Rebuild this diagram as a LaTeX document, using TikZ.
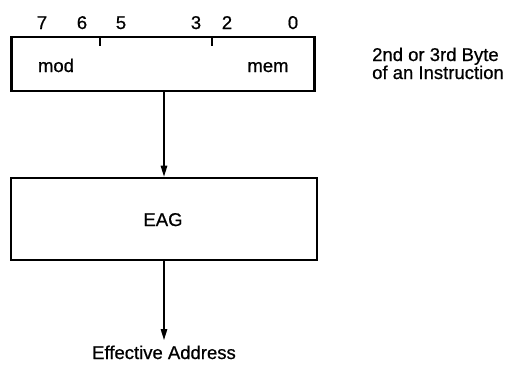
\documentclass[tikz,border=0pt]{standalone}
\usepackage{fontspec}
\setmainfont[FakeBold=0.7]{Liberation Sans}
\usetikzlibrary{arrows.meta}
\begin{document}
\begin{tikzpicture}[x=1pt,y=-1pt,
  lbl/.style={inner sep=0pt, anchor=base, font=\fontsize{18.5}{21}\selectfont},
  boxst/.style={draw, line width=2.6pt, inner sep=0pt},
  arr/.style={line width=1.4pt, -{Triangle[length=11pt,width=6.5pt]}}]
\useasboundingbox (0,0) rectangle (521,373);
\node[boxst, minimum width=303pt, minimum height=54pt] (byte) at (163,64) {};
\draw[line width=1.4pt] (100,37) -- (100,46);
\draw[line width=1.4pt] (212,37) -- (212,46);
\node[lbl] (b7) at (42,29) {7};
\node[lbl] (b6) at (82,29) {6};
\node[lbl] (b5) at (121,29) {5};
\node[lbl] (b3) at (196,29) {3};
\node[lbl] (b2) at (227,29) {2};
\node[lbl] (b0) at (293,29) {0};
\node[lbl] (mod) at (56,72) {mod};
\node[lbl] (mem) at (268,72) {mem};
\node[lbl, anchor=base west] (cap1) at (372,61) {2nd or 3rd Byte};
\node[lbl, anchor=base west] (cap2) at (372,79) {of an Instruction};
\node[boxst, minimum width=306pt, minimum height=82pt] (eag) at (164,219) {};
\node[lbl] (eagt) at (163,226) {EAG};
\node[lbl] (ea) at (164,359) {Effective Address};
\draw[arr] (byte.south -| 164,0) -- (eag.north);
\draw[arr] (eag.south) -- (164,340);
\end{tikzpicture}
\end{document}
